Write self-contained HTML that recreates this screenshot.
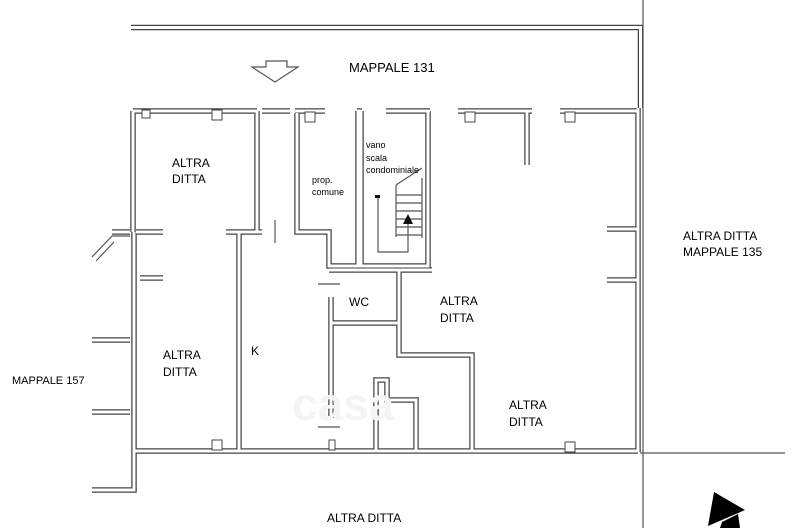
<!DOCTYPE html>
<html><head><meta charset="utf-8"><style>
html,body{margin:0;padding:0;background:#fff}
svg{display:block}
text{font-family:"Liberation Sans",sans-serif;fill:#000}
</style></head><body>
<svg width="800" height="528" viewBox="0 0 800 528" xmlns="http://www.w3.org/2000/svg">
<defs>
<g id="walls">
<path d="M131,27.5 H640.5 V108"/>
<path d="M133,111 H257 M262,111 H290 M295,111 H325 M357,111 H362 M386,111 H430 M458,111 H532 M560,111 H638"/>
<path d="M133,111 V232 M134,232 V452"/>
<path d="M257,111 V232 M226,232 H262"/>
<path d="M136,232 H163 M140,278 H163"/>
<path d="M239,232 V452"/>
<path d="M297,113 V232 H329 V266 H358 V111"/>
<path d="M361,111 V266 H428 V111"/>
<path d="M329,270 H432"/>
<path d="M331,297 V418"/>
<path d="M331,323 H399"/>
<path d="M399,270 V355 H472 V452"/>
<path d="M527,111 V165"/>
<path d="M638,108 V452"/>
<path d="M607,229 H638 M607,280 H638"/>
<path d="M134,451 H638"/>
<path d="M376,451 V380 H387 V400 H416 V451"/>
<path d="M92,340 H130 M92,412 H130 M92,490 H134 V452"/>
<path d="M130,232 H112"/>
</g>
</defs>
<g fill="none" stroke="#444" stroke-width="5.5" stroke-linejoin="miter"><use href="#walls"/></g>
<g fill="none" stroke="#fff" stroke-width="3"><use href="#walls"/></g>

<g fill="#fff" stroke="#444" stroke-width="1">
<rect x="142" y="110" width="8" height="8"/><rect x="212" y="110" width="10" height="10"/>
<rect x="305" y="112" width="10" height="10"/><rect x="465" y="112" width="10" height="10"/>
<rect x="565" y="112" width="10" height="10"/>
<rect x="212" y="440" width="10" height="10"/><rect x="565" y="442" width="10" height="10"/>
<rect x="329" y="440" width="6" height="10"/>
</g>

<g stroke="#555" stroke-width="1.2" fill="none">
<line x1="643" y1="0" x2="643" y2="528"/>
<line x1="640" y1="453" x2="785" y2="453"/>
<line x1="275" y1="220" x2="275" y2="243"/>
<line x1="318" y1="284" x2="340" y2="284"/>
<line x1="318" y1="427" x2="340" y2="427"/>
<line x1="92" y1="257" x2="112" y2="236"/>
<line x1="96" y1="261" x2="114" y2="242"/>
<line x1="112" y1="236" x2="130" y2="236"/>
<path d="M396,185 V237 M422,178 V238 M396,185 L422,168"/>
<path d="M396,195 H422 M396,203 H422 M396,211 H422 M396,219 H422 M396,227 H422 M396,235 H422"/>
<path d="M378,198 V252 H408 V222"/>
<path d="M266,67 V61 H287 V67 H298 L275,82 L252,67 Z"/>
</g>
<rect x="375" y="195" width="5" height="3" fill="#111"/>
<polygon points="408,214 403,224 413,224" fill="#111"/>
<polygon points="714,492 745,510 708,526" fill="#000"/>
<polygon points="722,522 738,514 740,528 720,528" fill="#000"/>

<text x="292" y="420" font-size="46" font-weight="bold" style="fill:#f4f4f4">casa</text>

<text x="349" y="72" font-size="13">MAPPALE 131</text>
<text x="172" y="167" font-size="12">ALTRA</text>
<text x="172" y="183" font-size="12">DITTA</text>
<text x="312" y="183" font-size="9">prop.</text>
<text x="312" y="195" font-size="9">comune</text>
<text x="366" y="148" font-size="9">vano</text>
<text x="366" y="161" font-size="9">scala</text>
<text x="366" y="173" font-size="9">condominiale</text>
<text x="683" y="240" font-size="12">ALTRA DITTA</text>
<text x="683" y="256" font-size="12">MAPPALE 135</text>
<text x="349" y="306" font-size="12">WC</text>
<text x="440" y="305" font-size="12">ALTRA</text>
<text x="440" y="322" font-size="12">DITTA</text>
<text x="163" y="359" font-size="12">ALTRA</text>
<text x="163" y="376" font-size="12">DITTA</text>
<text x="251" y="355" font-size="12">K</text>
<text x="12" y="384" font-size="11">MAPPALE 157</text>
<text x="509" y="409" font-size="12">ALTRA</text>
<text x="509" y="426" font-size="12">DITTA</text>
<text x="327" y="522" font-size="12">ALTRA DITTA</text>
<text x="327" y="537" font-size="12">MAPPALE 141</text>
</svg>
</body></html>
